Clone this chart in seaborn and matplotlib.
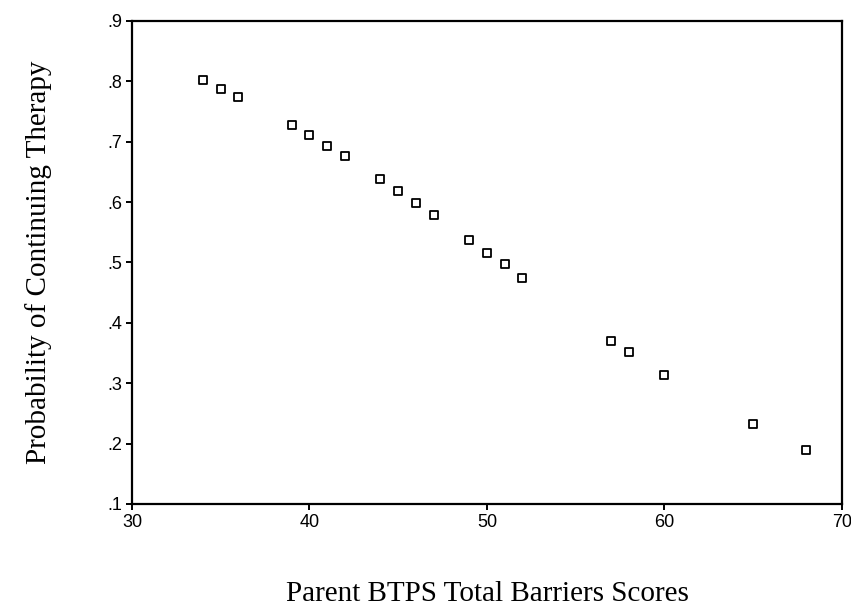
import pandas as pd
import matplotlib
matplotlib.use("Agg")
import matplotlib.pyplot as plt
import seaborn as sns
from matplotlib.ticker import FuncFormatter

# Дані
barrier_scores = [34, 35, 36, 39, 40, 41, 42, 44, 45, 46, 47, 49, 50, 51, 52, 57, 58, 60, 65, 68]
prob_continue = [0.802, 0.787, 0.774, 0.727, 0.711, 0.693, 0.676, 0.638, 0.619, 0.598, 0.579,
                 0.537, 0.516, 0.498, 0.475, 0.370, 0.351, 0.314, 0.232, 0.189]

x_ticks = [30, 40, 50, 60, 70]
y_ticks = [0.1, 0.2, 0.3, 0.4, 0.5, 0.6, 0.7, 0.8, 0.9]

sns.set_theme(style="ticks")
plt.rcParams['font.family'] = ['Liberation Sans', 'DejaVu Sans']

df = pd.DataFrame({'score': barrier_scores, 'prob': prob_continue})

fig = plt.figure(figsize=(8.51, 6.10), dpi=100)
ax = fig.add_axes([0.1551, 0.1738, 0.8343, 0.7918])

sns.scatterplot(data=df, x='score', y='prob', ax=ax, marker='s', s=30,
                facecolor='white', edgecolor='black', linewidth=1.3)

ax.set_xlim(30, 70)
ax.set_ylim(0.1, 0.9)
ax.set_xticks(x_ticks)
ax.set_yticks(y_ticks)
ax.yaxis.set_major_formatter(FuncFormatter(lambda v, p: f'{v:.1f}'.lstrip('0')))

for s in ax.spines.values():
    s.set_linewidth(1.6)
    s.set_color('black')

ax.tick_params(axis='both', direction='out', length=4, width=1.4, color='black',
               labelsize=13, labelcolor='black', pad=3)

ax.set_xlabel('Parent BTPS Total Barriers Scores', family=['Liberation Serif'],
              fontsize=21, labelpad=36, color='black')
ax.set_ylabel('Probability of Continuing Therapy', family=['Liberation Serif'],
              fontsize=21, labelpad=40, color='black')

fig.savefig('out.png', dpi=100)
